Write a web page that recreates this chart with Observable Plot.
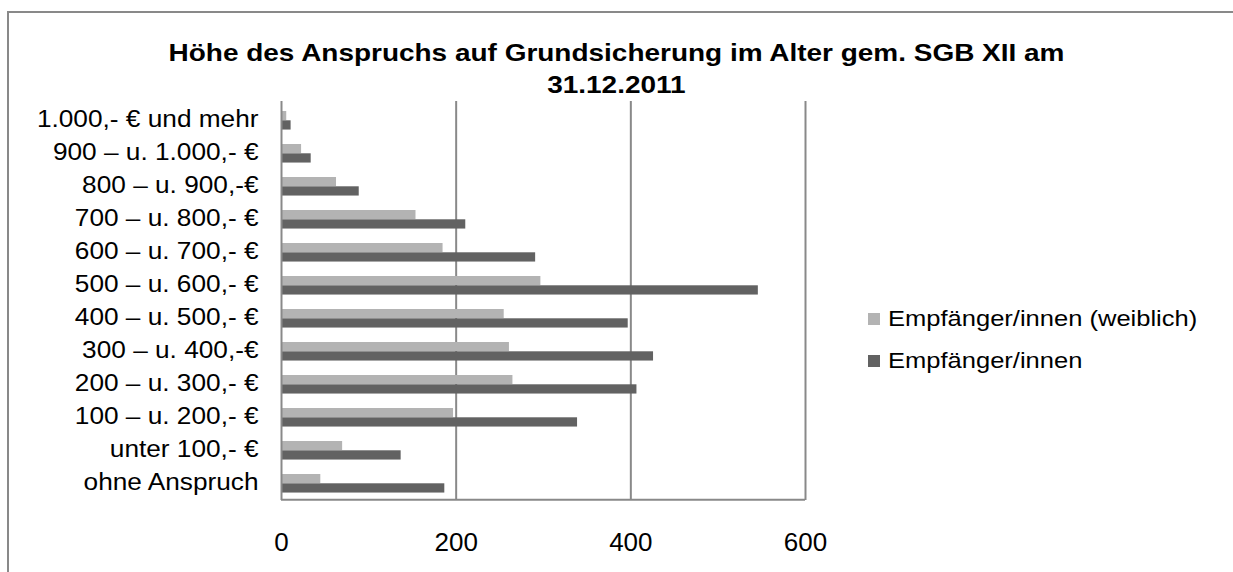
<!DOCTYPE html>
<html>
<head>
<meta charset="utf-8">
<script src="https://cdn.jsdelivr.net/npm/d3@7"></script>
<script src="https://cdn.jsdelivr.net/npm/@observablehq/plot@0.6"></script>
<style>
  html, body { margin: 0; padding: 0; background: #fff; }
  body { width: 1233px; height: 572px; overflow: hidden; position: relative; font-family: "Liberation Sans", Arial, sans-serif; }
  #frame { position: absolute; left: 7px; top: 11px; width: 1240px; height: 600px; border: 2px solid #898989; box-sizing: border-box; }
  #title { position: absolute; left: 0; width: 1233px; top: 37px; text-align: center; font-weight: bold; font-size: 24px; line-height: 32px; color: #000; }
  #title span { display: inline-block; transform: scaleX(1.165); transform-origin: center; white-space: nowrap; }
  #chart { position: absolute; left: 0; top: 0; }
  #legend { position: absolute; left: 868px; top: 298px; font-size: 22px; color: #000; }
  .item { display: flex; align-items: center; height: 42px; white-space: nowrap; }
  .sw { width: 12px; height: 12px; margin-right: 8px; }
  .lt { display: inline-block; transform: scaleX(1.16); transform-origin: left center; }
</style>
</head>
<body>
<div id="frame"></div>
<div id="chart"></div>
<div id="title"></div>
<div id="legend"></div>
<script>
// ---- data ----
const categories = [
  "1.000,- € und mehr",
  "900 – u. 1.000,- €",
  "800 – u. 900,-€",
  "700 – u. 800,- €",
  "600 – u. 700,- €",
  "500 – u. 600,- €",
  "400 – u. 500,- €",
  "300 – u. 400,-€",
  "200 – u. 300,- €",
  "100 – u. 200,- €",
  "unter 100,- €",
  "ohne Anspruch"
];
const weiblich = [6, 23, 63, 154, 185, 297, 255, 261, 265, 197, 70, 45];
const gesamt   = [11, 34, 89, 211, 291, 546, 397, 426, 407, 339, 137, 187];
const xTicks = [0, 200, 400, 600];
const seriesNames = ["Empfänger/innen (weiblich)", "Empfänger/innen"];
const seriesColors = ["#b3b3b3", "#626262"];
const titleLines = ["Höhe des Anspruchs auf Grundsicherung im Alter gem. SGB XII am", "31.12.2011"];

// ---- table ----
const rows = categories.map((c, i) => ({cat: c, weiblich: weiblich[i], gesamt: gesamt[i]}));

const plotTop = 101, plotBottom = 500;
const step = (plotBottom - plotTop) / categories.length;

const chart = Plot.plot({
  width: 1233,
  height: 572,
  marginLeft: 281,
  marginRight: 428,
  marginTop: plotTop,
  marginBottom: 572 - plotBottom,
  style: {fontFamily: "'Liberation Sans', Arial, sans-serif", color: "#000", background: "transparent"},
  x: {domain: [0, 600], label: null},
  y: {domain: categories, padding: 0, label: null},
  marks: [
    Plot.gridX(xTicks.filter(d => d > 0), {stroke: "#898989", strokeOpacity: 1, strokeWidth: 2}),
    Plot.barX(rows, {x: "weiblich", y: "cat", fill: seriesColors[0], insetTop: 8, insetBottom: step - 17.3}),
    Plot.barX(rows, {x: "gesamt", y: "cat", fill: seriesColors[1], insetTop: 17.3, insetBottom: step - 26.8}),
    Plot.ruleX([0], {stroke: "#898989", strokeWidth: 2}),
    Plot.ruleY([categories[categories.length - 1]], {x1: 0, x2: 600, dy: step / 2, stroke: "#898989", strokeWidth: 2}),
    Plot.axisY({tickSize: 0, tickPadding: 23, fontSize: 23, label: null, className: "ylab"}),
    Plot.axisX({ticks: xTicks, tickSize: 0, tickPadding: 32, fontSize: 26, label: null})
  ]
});
document.getElementById("chart").appendChild(chart);

// widen the category labels slightly, as in the reference
chart.querySelectorAll("[aria-label='y-axis tick label'] text").forEach(t => {
  const len = t.getComputedTextLength();
  t.setAttribute("textLength", (len * 1.14).toFixed(1));
  t.setAttribute("lengthAdjust", "spacingAndGlyphs");
});

document.getElementById("title").innerHTML = titleLines.map(t => `<div><span>${t}</span></div>`).join("");
document.getElementById("legend").innerHTML = seriesNames.map((n, i) =>
  `<div class="item"><span class="sw" style="background:${seriesColors[i]}"></span><span class="lt">${n}</span></div>`).join("");
</script>
</body>
</html>
